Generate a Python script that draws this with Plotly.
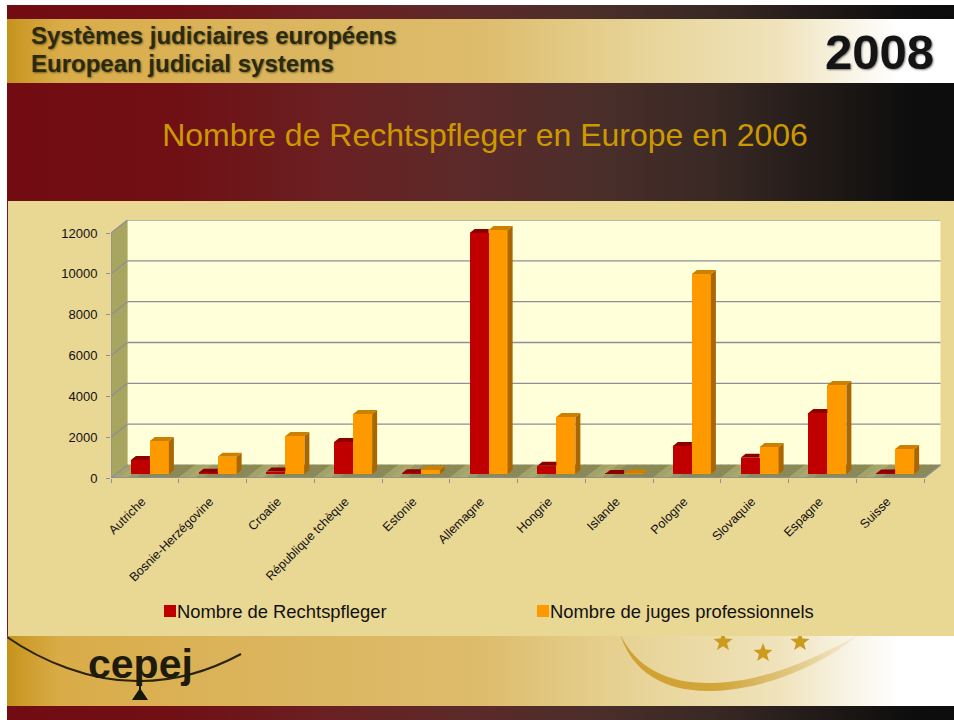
import base64, math
import plotly.graph_objects as go

categories = ["Autriche", "Bosnie-Herzégovine", "Croatie", "République tchèque", "Estonie",
              "Allemagne", "Hongrie", "Islande", "Pologne", "Slovaquie", "Espagne", "Suisse"]
rechtspfleger = [690, 60, 120, 1570, 40, 11800, 400, 5, 1370, 790, 2990, 30]
juges = [1620, 850, 1860, 2940, 200, 11950, 2790, 25, 9800, 1320, 4360, 1220]
y_ticks = [0, 2000, 4000, 6000, 8000, 10000, 12000]
y_tick_labels = ["0", "2000", "4000", "6000", "8000", "10000", "12000"]
series_names = ["Nombre de Rechtspfleger", "Nombre de juges professionnels"]
title_text = "Nombre de Rechtspfleger en Europe en 2006"
header_lines = ["Systèmes judiciaires européens", "European judicial systems"]

W, H = 954, 720
PX_CAT = 67.75
PX_UNIT = 245 / 12000
X0, Y0 = 111, 478
XR, YT = 941, 220
FONT = "Liberation Sans, Arial, sans-serif"


def dxpx(p):
    return p / PX_CAT


def dypx(p):
    return p / PX_UNIT


# ---------- decorative slide background ----------
DARK_STOPS = [(7, "#720C12"), (170, "#700F14"), (330, "#6A2022"), (470, "#5C2A2A"), (600, "#4A2E2A"),
              (720, "#382824"), (850, "#1A1614"), (910, "#0E0E0E"), (954, "#0C0C0C")]
GOLD_STOPS = [(7, "#C4931A"), (20, "#CC9A28"), (60, "#D9AC48"), (250, "#DBB45C"), (480, "#DDBC6C"),
              (650, "#E8D59A"), (780, "#F0E3BC"), (850, "#F8F4E6"), (900, "#FFFFFF"), (954, "#FFFFFF")]
SWOOSH_STOPS = [(620, "#D0A030"), (720, "#D2A63A"), (790, "#E0C680"), (860, "#F6EFD8")]


def grad(id_, stops):
    x0, x1 = stops[0][0], stops[-1][0]
    s = "".join(f'<stop offset="{(x - x0) / (x1 - x0):.4f}" stop-color="{c}"/>' for x, c in stops)
    return f'<linearGradient id="{id_}" gradientUnits="userSpaceOnUse" x1="{x0}" y1="0" x2="{x1}" y2="0">{s}</linearGradient>'


def star(cx, cy, r):
    pts = []
    for i in range(10):
        a = -math.pi / 2 + i * math.pi / 5
        rr = r if i % 2 == 0 else r * 0.42
        pts.append(f"{cx + rr * math.cos(a):.1f},{cy + rr * math.sin(a):.1f}")
    return f'<polygon points="{" ".join(pts)}" fill="#CC9A1C"/>'


svg = f'''<svg xmlns="http://www.w3.org/2000/svg" width="{W}" height="{H}" viewBox="0 0 {W} {H}">
<defs>{grad("d", DARK_STOPS)}{grad("g", GOLD_STOPS)}{grad("w", SWOOSH_STOPS)}
<clipPath id="c"><rect x="7" y="636" width="947" height="70"/></clipPath>
<filter id="b"><feGaussianBlur stdDeviation="0.6"/></filter></defs>
<rect width="{W}" height="{H}" fill="#FFFFFF"/>
<rect x="7" y="5" width="947" height="14" fill="url(#d)"/>
<rect x="7" y="19" width="947" height="64" fill="url(#g)"/>
<rect x="7" y="83" width="947" height="118" fill="url(#d)"/>
<rect x="7" y="201" width="947" height="435" fill="#E9D794"/>
<rect x="7" y="201" width="1" height="435" fill="#7A1A1A"/>
<rect x="7" y="636" width="947" height="70" fill="url(#g)"/>
<rect x="7" y="706" width="947" height="14" fill="url(#d)"/>
<g clip-path="url(#c)" filter="url(#b)">
<path d="M 620 634 C 636 668 668 683 708 683 C 762 683 812 660 860 634 C 818 668 760 691 708 691 C 664 691 632 672 620 634 Z" fill="url(#w)"/>
{star(723, 642, 10)}{star(763, 653, 10)}{star(800, 642, 10)}
<path d="M 7 637 C 40 660 90 682 140 681 C 180 681 215 668 241 654" fill="none" stroke="#2A2410" stroke-width="2"/>
<path d="M 140 680 L 140 690" stroke="#1A1A10" stroke-width="2"/>
<polygon points="140,688 132,700 148,700" fill="#14140C"/>
</g></svg>'''
bg_uri = "data:image/svg+xml;base64," + base64.b64encode(svg.encode("utf-8")).decode()

# ---------- chart geometry ----------
n = len(categories)
DEPTH_X = dxpx(16.5)
DEPTH_Y = dypx(13)
LEFT = -0.5
RIGHT = n - 0.5
BAR_W = dxpx(19)
BAR_BASE = dypx(4)
BAR_SHIFT_RED = dxpx(-14)
BAR_SHIFT_ORA = dxpx(5)
FACE_X = dxpx(5)
FACE_Y = dypx(4)
LABEL_SHIFT = dxpx(-3)
GRID = "#8E8E98"

shapes = []


def poly(pts, fill, line=None):
    d = "M " + " L ".join(f"{x:.4f} {y:.2f}" for x, y in pts) + " Z"
    shapes.append(dict(type="path", path=d, xref="x", yref="y", layer="below", fillcolor=fill,
                       line=dict(width=0 if line is None else 1, color=line or fill)))


def seg(x0, y0, x1, y1, color=GRID, width=1.3):
    shapes.append(dict(type="line", x0=x0, y0=y0, x1=x1, y1=y1, xref="x", yref="y", layer="below",
                       line=dict(color=color, width=width)))


top = y_ticks[-1]
poly([(LEFT + DEPTH_X, DEPTH_Y), (RIGHT + DEPTH_X, DEPTH_Y), (RIGHT + DEPTH_X, top + DEPTH_Y), (LEFT + DEPTH_X, top + DEPTH_Y)], "#FFFFD9")
poly([(LEFT, 0), (LEFT + DEPTH_X, DEPTH_Y), (LEFT + DEPTH_X, top + DEPTH_Y), (LEFT, top)], "#A7A560")

# floor bands
FLOOR_DARK = (0x8A, 0x89, 0x58)
FLOOR_LIGHT = (0xAE, 0xAD, 0x70)
STEPS = 8
for i in range(n):
    for s in range(STEPS):
        t = (s + 0.5) / STEPS
        k = max(0.0, 1 - abs(t - 0.15) / 0.3) if t < 0.45 else 0.0
        col = "#%02X%02X%02X" % tuple(int(a + (b - a) * k) for a, b in zip(FLOOR_DARK, FLOOR_LIGHT))
        x0 = LEFT + i + s / STEPS
        x1 = LEFT + i + (s + 1) / STEPS
        poly([(x0, 0), (x1, 0), (x1 + DEPTH_X, DEPTH_Y), (x0 + DEPTH_X, DEPTH_Y)], col, col)

for v in y_ticks:
    seg(LEFT, v, LEFT + DEPTH_X, v + DEPTH_Y)
    if v > 0:
        seg(LEFT + DEPTH_X, v + DEPTH_Y, RIGHT + DEPTH_X, v + DEPTH_Y, color=GRID if v < top else "#A0A0A0")
seg(LEFT, 0, LEFT, top)
seg(LEFT, 0, RIGHT, 0)
seg(RIGHT, 0, RIGHT + DEPTH_X, DEPTH_Y)

# ---------- traces ----------
xs = list(range(n))
fig = go.Figure()
fig.add_trace(go.Bar(x=xs, y=rechtspfleger, base=BAR_BASE, width=BAR_W, offset=BAR_SHIFT_RED,
                     name=series_names[0], marker=dict(color="#C00000", line=dict(width=0))))
fig.add_trace(go.Bar(x=xs, y=juges, base=BAR_BASE, width=BAR_W, offset=BAR_SHIFT_ORA,
                     name=series_names[1], marker=dict(color="#FF9900", line=dict(width=0))))


def faces(values, shift, clip_right):
    tx, ty, sx, sy = [], [], [], []
    for i, v in enumerate(values):
        l = i + shift
        r = l + BAR_W
        t = BAR_BASE + v
        tr = r if clip_right else r + FACE_X
        tx += [l, r, tr, l + FACE_X, l, None]
        ty += [t, t, t + FACE_Y, t + FACE_Y, t, None]
        sx += [r, r + FACE_X, r + FACE_X, r, r, None]
        sy += [BAR_BASE, BAR_BASE + FACE_Y, t + FACE_Y, t, BAR_BASE, None]
    return tx, ty, sx, sy


def face_trace(x, y, color):
    return go.Scatter(x=x, y=y, mode="lines", fill="toself", fillcolor=color, line=dict(width=0, color=color),
                      showlegend=False, hoverinfo="skip")


tx, ty, _, _ = faces(rechtspfleger, BAR_SHIFT_RED, True)
fig.add_trace(face_trace(tx, ty, "#8E0000"))
tx, ty, sx, sy = faces(juges, BAR_SHIFT_ORA, False)
fig.add_trace(face_trace(sx, sy, "#AA6600"))
fig.add_trace(face_trace(tx, ty, "#CC8000"))

HEAD_SHADOW = "1px 1px 2px rgba(60,50,10,0.6)"
annotations = [
    dict(text=header_lines[0], x=31 / W, y=1 - 35 / H, font=dict(size=24, color="#2A2A10", family=FONT, weight="bold", shadow=HEAD_SHADOW)),
    dict(text=header_lines[1], x=31 / W, y=1 - 63 / H, font=dict(size=24, color="#2A2A10", family=FONT, weight="bold", shadow=HEAD_SHADOW)),
    dict(text="2008", x=825 / W, y=1 - 52 / H, font=dict(size=49, color="#141414", family=FONT, weight="bold", shadow="1px 1px 2px rgba(0,0,0,0.5)")),
    dict(text="cepej", x=88 / W, y=1 - 664 / H, font=dict(size=41, color="#1E1A0C", family=FONT, weight="bold")),
]
for a in annotations:
    a.update(xref="paper", yref="paper", xanchor="left", yanchor="middle", showarrow=False, borderpad=0, borderwidth=0)

fig.update_layout(
    width=W, height=H, margin=dict(l=0, r=0, t=0, b=0, autoexpand=False), autosize=False,
    paper_bgcolor="rgba(0,0,0,0)", plot_bgcolor="rgba(0,0,0,0)",
    font=dict(family=FONT, color="#111111"),
    title=dict(text=title_text, font=dict(size=32, color="#CC9900", family=FONT), xref="paper", yref="container",
               x=485 / W, xanchor="center", y=1 - 135 / H, yanchor="middle", pad=dict(t=0, b=0, l=0, r=0)),
    images=[dict(source=bg_uri, xref="paper", yref="paper", x=0, y=1, sizex=1, sizey=1, sizing="stretch",
                 xanchor="left", yanchor="top", layer="below")],
    shapes=shapes, annotations=annotations,
    barmode="overlay", bargap=0, hovermode=False,
    showlegend=True,
    legend=dict(orientation="h", x=137 / W, xanchor="left", y=1 - 611 / H, yanchor="middle",
                font=dict(size=18.4, color="#111111", family=FONT), bgcolor="rgba(0,0,0,0)",
                traceorder="normal", itemclick=False, itemdoubleclick=False,
                entrywidth=328, entrywidthmode="pixels"),
    xaxis=dict(domain=[X0 / W, XR / W], range=[LEFT, LEFT + (XR - X0) / PX_CAT], tickmode="array",
               tickvals=[x + LABEL_SHIFT for x in xs], ticktext=categories, tickangle=-45, ticks="", showgrid=False,
               zeroline=False, showline=False, automargin=False,
               tickfont=dict(size=12.5, color="#111111", family=FONT), ticklabelstandoff=13,
               minor=dict(tickmode="array", tickvals=[LEFT + i for i in range(n + 1)], ticks="outside",
                          ticklen=4, tickcolor=GRID, tickwidth=1.3, showgrid=False)),
    yaxis=dict(domain=[1 - Y0 / H, 1 - YT / H], range=[0, (Y0 - YT) / PX_UNIT], tickmode="array",
               tickvals=y_ticks, ticktext=y_tick_labels, ticks="outside", ticklen=4, tickcolor=GRID, tickwidth=1.3,
               showgrid=False, zeroline=False, showline=False, automargin=False,
               tickfont=dict(size=13, color="#111111", family=FONT), ticklabelstandoff=6),
)

fig.write_html("out.html", config={"displayModeBar": False},
               post_script="document.body.style.margin='0';document.body.style.overflow='hidden';"
                           "document.querySelectorAll('.legendsymbols').forEach(function(e){e.setAttribute('transform','translate(13,0)');});")
